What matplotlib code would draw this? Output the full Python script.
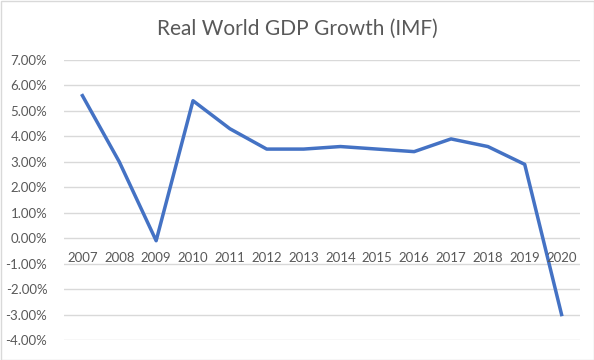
import numpy as np
import matplotlib.pyplot as plt
from matplotlib.ticker import FuncFormatter

plt.rcParams['font.family'] = ['Lato', 'DejaVu Sans']

years = ['2007', '2008', '2009', '2010', '2011', '2012', '2013',
         '2014', '2015', '2016', '2017', '2018', '2019', '2020']
growth = [5.6, 3.0, -0.1, 5.4, 4.3, 3.5, 3.5, 3.6, 3.5, 3.4, 3.9, 3.6, 2.9, -3.0]

fig = plt.figure(figsize=(5.94, 3.6), dpi=100)
ax = fig.add_axes([64/594, 20/360, 516/594, 280/360])

x = np.arange(len(years))
ax.plot(x, growth, color='#4472C4', lw=2.5, solid_joinstyle='round', zorder=3)

ax.set_xlim(-0.5, len(years) - 0.5)
ax.set_ylim(-4, 7)
ax.set_yticks(np.arange(-4, 8, 1))
ax.yaxis.set_major_formatter(FuncFormatter(lambda v, p: '%.2f%%' % v))
ax.grid(axis='y', color='#d9d9d9', lw=1)
ax.set_axisbelow(True)
ax.tick_params(axis='y', length=0, pad=12, labelsize=9.5, labelcolor='#595959')
ax.set_xticks([])
for s in ax.spines.values():
    s.set_visible(False)

# category labels sit just under the zero line
for xi, yr in zip(x, years):
    ax.text(xi, -0.78, yr, ha='center', va='center', fontsize=9.5, color='#595959')

fig.text(0.5, 0.92, 'Real World GDP Growth (IMF)', ha='center', va='center',
         fontsize=15, color='#595959')

# chart border
fig.patches.append(plt.Rectangle((0.5/594, 0.5/360), 593/594, 359/360, fill=False,
                                 edgecolor='#d9d9d9', lw=1, transform=fig.transFigure))

fig.savefig('out.png', dpi=100)
